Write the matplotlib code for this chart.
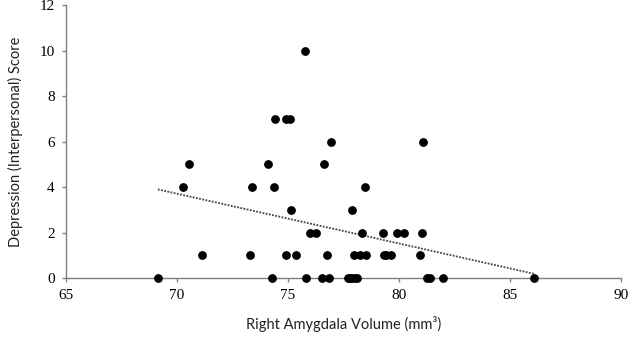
import matplotlib
matplotlib.use("Agg")
import matplotlib.pyplot as plt
import numpy as np

# right amygdala volume (x) and interpersonal depression score (y)
volume = [69.14, 74.26, 75.81, 76.52, 76.86, 77.69, 77.79, 77.9, 78.02, 78.12,
          81.25, 81.4, 81.98, 86.1,
          71.11, 73.29, 74.9, 75.36, 76.76, 77.99, 78.26, 78.5, 79.31, 79.43, 79.63, 80.93,
          75.99, 76.25, 78.33, 79.27, 79.91, 80.24, 81.02,
          75.14, 77.9,
          70.28, 73.39, 74.36, 78.45,
          70.53, 74.11, 76.62,
          76.94, 81.1,
          74.43, 74.9, 75.1,
          75.75]
score = [0] * 14 + [1] * 12 + [2] * 7 + [3] * 2 + [4] * 4 + [5] * 3 + [6] * 2 + [7] * 3 + [10]

# linear trend line endpoints
trend_x = [69.14, 86.1]
trend_y = [3.9, 0.18]

x_ticks = [65, 70, 75, 80, 85, 90]
y_ticks = [0, 2, 4, 6, 8, 10, 12]

fig = plt.figure(figsize=(6.28, 3.39), dpi=100)
ax = fig.add_axes([0.105, 0.18, 0.884, 0.804])

ax.scatter(volume, score, s=28, color="black", zorder=3, clip_on=False)
ax.plot(trend_x, trend_y, color="#444444", lw=1.3, linestyle=(0, (1, 0.8)), zorder=2)

ax.set_xlim(65, 90)
ax.set_ylim(0, 12)
ax.set_xticks(x_ticks)
ax.set_yticks(y_ticks)

for side in ["top", "right"]:
    ax.spines[side].set_visible(False)
for side in ["left", "bottom"]:
    ax.spines[side].set_color("#7f7f7f")
    ax.spines[side].set_linewidth(1.0)

ax.tick_params(axis="both", direction="out", length=3, width=1.0, color="#7f7f7f",
               labelsize=11, pad=5)
for lab in ax.get_xticklabels() + ax.get_yticklabels():
    lab.set_family("Liberation Serif")

ax.set_xlabel("Right Amygdala Volume (mm³)", fontsize=10.5, family="Lato",
              color="#222222", labelpad=10)
ax.set_ylabel("Depression (Interpersonal) Score", fontsize=10.5, family="Lato",
              color="#222222", labelpad=12)

fig.savefig("out.png", dpi=100)
